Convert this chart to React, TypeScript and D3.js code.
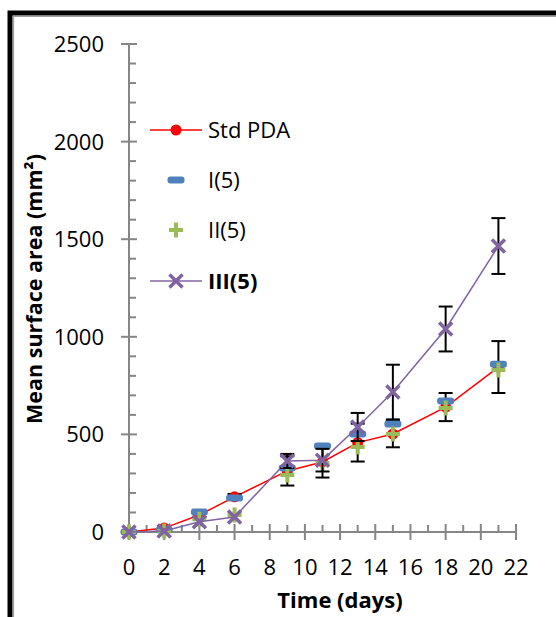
import React from "react";
import * as d3 from "d3";

// days sampled
const days = [0, 2, 4, 6, 9, 11, 13, 15, 18, 21];

// mean surface area (mm²) per medium
const stdPDA = [0, 20, 87, 180, 313, 359, 458, 502, 640, 845];
const i5 = [0, 10, 102, 174, 328, 441, 502, 553, 671, 860];
const ii5 = [0, 5, 65, 87, 292, 354, 435, 502, 635, 830];
const iii5 = [0, 5, 52, 77, 364, 368, 538, 717, 1040, 1465];

// error bar half-widths
const stdPDAErr = [0, 8, 12, 15, 75, 80, 97, 68, 72, 133];
const iii5Err = [0, 0, 0, 0, 36, 58, 72, 140, 115, 143];

const xTicks = [0, 2, 4, 6, 8, 10, 12, 14, 16, 18, 20, 22];
const yTicks = [0, 500, 1000, 1500, 2000, 2500];

const RED = "#ff0000";
const BLUE = "#4f81bd";
const GREEN = "#9bbb59";
const PURPLE = "#8064a2";
const AXIS = "#868686";
const FONT = "'Open Sans', sans-serif";

const W = 556;
const H = 617;

const x = d3.scaleLinear().domain([0, 22]).range([129, 516]);
const y = d3.scaleLinear().domain([0, 2500]).range([532, 44]);

const Dot = ({ cx, cy }) => <circle cx={cx} cy={cy} r={5.5} fill={RED} />;
const Dash = ({ cx, cy }) => (
  <rect x={cx - 8.5} y={cy - 3.5} width={17} height={7} rx={3} fill={BLUE} />
);
const Plus = ({ cx, cy }) => (
  <path
    d={`M${cx - 7},${cy}H${cx + 7}M${cx},${cy - 7.5}V${cy + 7.5}`}
    stroke={GREEN}
    strokeWidth={4}
  />
);
const Cross = ({ cx, cy }) => (
  <path
    d={`M${cx - 6.5},${cy - 6.5}L${cx + 6.5},${cy + 6.5}M${cx - 6.5},${cy + 6.5}L${cx + 6.5},${cy - 6.5}`}
    stroke={PURPLE}
    strokeWidth={3.5}
  />
);

const ErrorBars = ({ vals, errs }) => (
  <g stroke="#000" strokeWidth={2}>
    {days.map((d, i) => {
      if (!errs[i]) return null;
      const cx = x(d);
      const y0 = y(vals[i] - errs[i]);
      const y1 = y(vals[i] + errs[i]);
      return (
        <g key={i}>
          <line x1={cx} x2={cx} y1={y0} y2={y1} />
          <line x1={cx - 7} x2={cx + 7} y1={y0} y2={y0} />
          <line x1={cx - 7} x2={cx + 7} y1={y1} y2={y1} />
        </g>
      );
    })}
  </g>
);

export default function App() {
  const line = d3
    .line<number>()
    .x((_, i) => x(days[i]))
    .y((v) => y(v));

  const xMinor = d3.range(0, 23, 1).filter((v) => v % 2 !== 0);
  const yMinor = d3.range(0, 2501, 100).filter((v) => v % 500 !== 0);

  const legend = [
    { label: "Std PDA", Mark: Dot, line: RED, bold: false },
    { label: "I(5)", Mark: Dash, line: null, bold: false },
    { label: "II(5)", Mark: Plus, line: null, bold: false },
    { label: "III(5)", Mark: Cross, line: PURPLE, bold: true },
  ];
  const legendY = [130, 180, 230, 281];

  return (
    <svg
      width={W}
      height={H}
      style={{ position: "absolute", left: 0, top: 0, background: "#fff" }}
      fontFamily={FONT}
    >
      {/* frame */}
      <rect x={10} y={13} width={W + 20} height={H + 20} fill="none" stroke="#000" strokeWidth={5} />
      <path d={`M13.5,${H}V16.5H${W}`} fill="none" stroke="#a0a0a0" strokeWidth={1.2} />

      {/* y axis */}
      <g stroke={AXIS} strokeWidth={2}>
        <line x1={x(0)} x2={x(0)} y1={y(2500)} y2={y(0)} />
        {yTicks.map((t) => (
          <line key={t} x1={x(0) - 8} x2={x(0) + 8} y1={y(t)} y2={y(t)} />
        ))}
        {yMinor.map((t) => (
          <line key={t} x1={x(0)} x2={x(0) + 7} y1={y(t)} y2={y(t)} />
        ))}
      </g>
      {yTicks.map((t) => (
        <text key={t} x={104} y={y(t)} dy="0.36em" textAnchor="end" fontSize={22} fill="#000">
          {t}
        </text>
      ))}

      {/* x axis */}
      <g stroke={AXIS} strokeWidth={2}>
        <line x1={x(0)} x2={x(22)} y1={y(0)} y2={y(0)} />
        {xTicks.map((t) => (
          <line key={t} x1={x(t)} x2={x(t)} y1={y(0) - 8} y2={y(0) + 8} />
        ))}
        {xMinor.map((t) => (
          <line key={t} x1={x(t)} x2={x(t)} y1={y(0) - 7} y2={y(0)} />
        ))}
      </g>
      {xTicks.map((t) => (
        <text key={t} x={x(t)} y={575} textAnchor="middle" fontSize={22} fill="#000">
          {t}
        </text>
      ))}

      {/* titles */}
      <text x={340} y={608} textAnchor="middle" fontSize={22} fontWeight="bold">
        Time (days)
      </text>
      <text
        transform={`translate(42,289) rotate(-90)`}
        textAnchor="middle"
        fontSize={21.5}
        fontWeight="bold"
      >
        Mean surface area (mm²)
      </text>

      {/* Std PDA */}
      <path d={line(stdPDA) || ""} fill="none" stroke={RED} strokeWidth={1.5} />
      <ErrorBars vals={stdPDA} errs={stdPDAErr} />
      {stdPDA.map((v, i) => (
        <Dot key={i} cx={x(days[i])} cy={y(v)} />
      ))}

      {/* I(5) */}
      {i5.map((v, i) => (
        <Dash key={i} cx={x(days[i])} cy={y(v)} />
      ))}

      {/* II(5) */}
      {ii5.map((v, i) => (
        <Plus key={i} cx={x(days[i])} cy={y(v)} />
      ))}

      {/* III(5) */}
      <path d={line(iii5) || ""} fill="none" stroke={PURPLE} strokeWidth={1.5} />
      <ErrorBars vals={iii5} errs={iii5Err} />
      {iii5.map((v, i) => (
        <Cross key={i} cx={x(days[i])} cy={y(v)} />
      ))}

      {/* legend */}
      {legend.map((l, i) => (
        <g key={l.label}>
          {l.line && (
            <line x1={150} x2={202} y1={legendY[i]} y2={legendY[i]} stroke={l.line} strokeWidth={1.5} />
          )}
          <l.Mark cx={176} cy={legendY[i]} />
          <text
            x={208}
            y={legendY[i]}
            dy="0.36em"
            fontSize={22}
            fontWeight={l.bold ? "bold" : "normal"}
          >
            {l.label}
          </text>
        </g>
      ))}
    </svg>
  );
}
